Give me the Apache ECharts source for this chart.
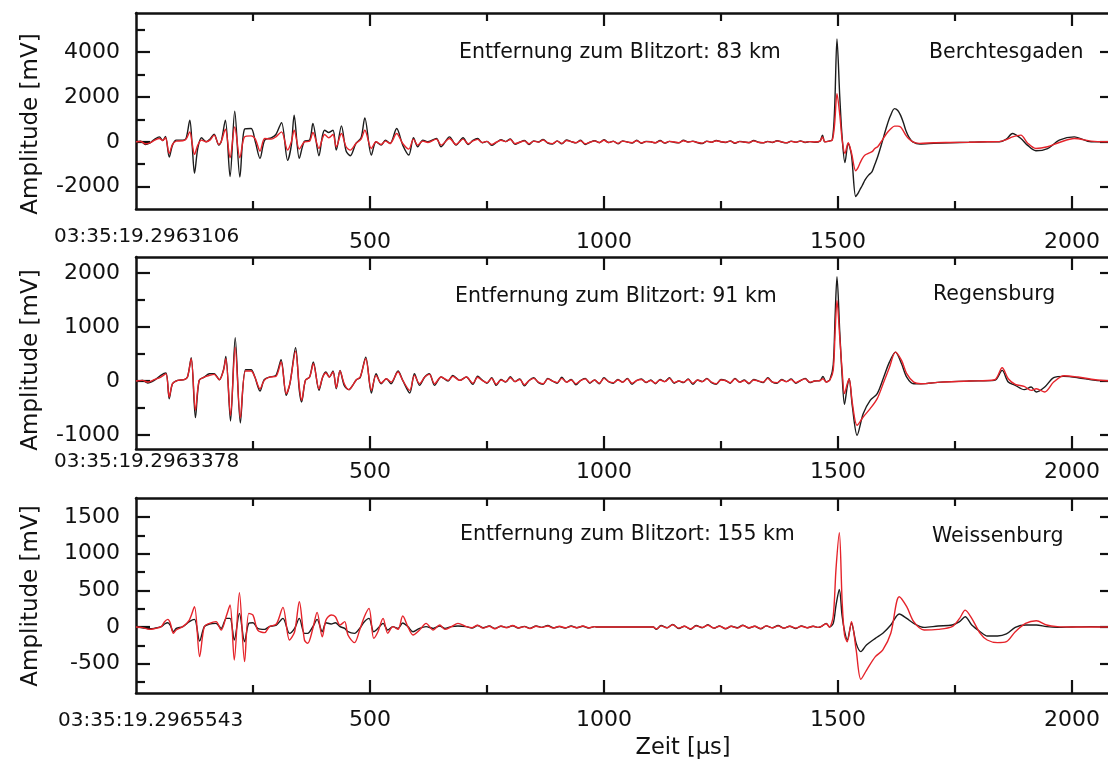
<!DOCTYPE html>
<html>
<head>
<meta charset="utf-8">
<script src="https://cdn.jsdelivr.net/npm/echarts@6/dist/echarts.min.js"></script>
<style>
  html, body { margin: 0; padding: 0; background: #fff; }
  #chart { width: 1108px; height: 768px; }
</style>
</head>
<body>
<div id="chart"></div>
<script>
// Time axis ticks [µs]
const timeTicksMajor = [500, 1000, 1500, 2000];
const timeTicksMinor = [250, 750, 1250, 1750];

// Berchtesgaden, 83 km
const berchtesgadenTime = [
  0,10,20,30,40,50,57,63,71,78,86,100,107,115,120,125,132,140,150,158,
  167,177,182,191,201,211,222,232,246,255,265,275,289,299,311,324,332,338,349,360,
  371,378,391,398,403,412,421,428,439,449,458,470,481,489,503,513,524,533,543,557,
  570,583,593,602,613,624,642,652,670,684,699,
  710,720,730,740,750,760,770,780,790,800,810,820,830,840,850,860,870,880,890,900,
  910,920,930,940,950,960,970,980,990,1000,1010,1020,1030,1040,1050,1060,1070,1080,1090,1100,
  1110,1120,1130,1140,1150,1160,1170,1180,1190,1200,1210,1220,1230,1240,1250,1260,1270,1280,1290,1300,
  1310,1320,1330,1340,1350,1360,1370,1380,1390,1400,1410,1420,1430,1440,1450,
  1462,1467,1472,1480,1488,1493,1498,1504,1509,1515,1522,1529,1538,1543,1547,1552,1558,1565,1573,1579,
  1585,1594,1604,1612,1621,1628,1634,1640,1645,1652,1660,1675,1705,1740,1780,1820,1845,1860,1873,1891,
  1905,1923,1948,1973,2005,2041,2070,2090
];
const berchtesgadenBlack = [
  0,30,-118,-44,118,222,59,237,-681,-148,74,74,148,962,-148,-1406,-296,178,0,118,
  340,-148,0,962,-1554,1362,-1569,562,592,0,-740,74,178,326,858,-829,-148,1184,-740,30,
  74,814,-622,222,518,414,518,-370,710,-414,-622,-74,178,1066,-592,0,-148,74,-74,592,
  -148,-592,178,-222,74,0,148,-222,222,-148,178,
  -120,60,150,-40,20,-160,-30,90,10,130,-110,-20,60,-120,40,-10,110,-60,-100,40,
  -90,80,10,-50,70,-120,-20,50,-40,90,-30,30,-90,40,-10,-60,70,-70,20,0,
  -50,60,-60,20,-20,-50,70,-10,30,-40,-80,30,-20,60,0,-30,40,-70,20,-10,
  -40,60,-20,-50,20,-30,50,-10,-50,30,-20,40,-30,10,-20,
  40,300,0,30,100,1500,4590,2000,200,-930,-70,-600,-2440,-2300,-2140,-1950,-1700,-1500,-1330,-1000,
  -670,-50,670,1150,1480,1400,1180,850,520,200,0,-100,-70,-40,-20,0,0,120,370,150,
  -150,-400,-300,70,220,0,0,0
];
const berchtesgadenRed = [
  0,15,-89,-44,74,148,59,178,-518,-118,30,44,118,444,-74,-562,-148,74,0,74,
  296,-118,0,562,-710,666,-710,222,266,118,-414,148,118,222,444,-370,0,518,-326,0,
  30,414,-296,118,326,178,326,-222,370,-222,-370,-74,118,518,-296,0,-118,30,-74,370,
  -74,-326,118,-148,30,-30,118,-148,148,-118,118,
  -90,40,110,-30,20,-120,-20,70,10,100,-80,-20,40,-90,30,-10,80,-40,-80,30,
  -70,60,10,-40,50,-90,-20,40,-30,70,-30,20,-70,30,-10,-40,50,-50,10,0,
  -40,40,-50,20,-10,-40,50,-10,20,-30,-60,20,-20,50,0,-20,30,-50,10,-10,
  -30,40,-20,-40,10,-20,40,-10,-40,20,-20,30,-20,10,-10,
  30,220,0,20,80,800,2150,1200,100,-520,-40,-500,-1290,-1150,-960,-750,-590,-520,-440,-300,
  -220,50,370,560,700,700,660,480,300,120,0,-70,-40,-30,-20,0,10,100,220,300,
  -50,-300,-220,-30,150,30,0,0
];

// Regensburg, 91 km
const regensburgTime = [
  0,14,25,39,53,64,71,78,89,103,110,118,127,135,146,157,167,178,187,192,
  202,212,223,234,246,254,265,274,285,299,310,321,329,341,349,354,362,371,379,391,
  399,406,413,421,428,436,445,455,463,471,479,491,503,513,524,535,545,560,570,585,
  595,606,617,627,638,652,667,677,692,706,
  720,730,740,750,760,770,780,790,800,810,820,830,840,850,860,870,880,890,900,910,
  920,930,940,950,960,970,980,990,1000,1010,1020,1030,1040,1050,1060,1070,1080,1090,1100,1110,
  1120,1130,1140,1150,1160,1170,1180,1190,1200,1210,1220,1230,1240,1250,1260,1270,1280,1290,1300,1310,
  1320,1330,1340,1350,1360,1370,1380,1390,1400,1410,1420,1430,1440,1450,
  1462,1468,1475,1483,1490,1494,1498,1504,1509,1514,1520,1524,1531,1541,1554,1569,1584,1598,1610,1623,
  1636,1647,1662,1677,1720,1780,1835,1851,1864,1879,1898,1913,1924,1942,1961,1983,2013,2050,2090
];
const regensburgBlack = [
  0,12,-37,12,105,148,-327,-49,12,25,74,432,-679,12,74,136,136,25,210,457,
  -740,802,-778,210,210,74,-185,25,74,105,395,-265,-49,617,-173,-389,12,74,352,-173,
  74,167,74,185,-142,197,-80,-160,-80,25,62,444,-222,136,-49,43,-49,185,12,-222,
  136,-80,74,136,-80,74,0,105,12,74,
  -60,90,20,-40,60,-80,30,-20,80,-10,40,-90,10,60,-30,-60,50,0,-40,70,
  -20,30,-70,10,50,-40,20,-50,60,-10,-40,30,-20,50,-60,10,40,-30,20,-50,
  30,-10,60,-40,0,-30,40,-60,20,-10,50,-30,-60,30,10,-40,50,-20,20,-50,
  30,0,-30,60,-20,-40,30,-10,40,-40,10,50,-30,0,
  10,86,-19,30,300,1200,1937,900,100,-432,-100,43,-481,-1006,-605,-358,-235,74,350,537,
  321,74,-49,-49,-20,0,12,197,-19,-80,-160,-111,-204,-111,62,86,62,12,0
];
const regensburgRed = [
  0,12,-19,25,74,136,-296,-49,12,25,74,413,-543,12,74,105,123,25,197,413,
  -636,629,-679,185,185,74,-142,12,74,86,352,-234,-37,555,-111,-358,12,74,321,-142,
  74,148,74,167,-123,185,-49,-160,-80,25,74,413,-173,105,-37,43,-19,167,12,-173,
  105,-49,74,123,-49,74,12,86,12,74,
  -40,70,10,-30,50,-60,20,-10,60,-10,30,-70,10,50,-20,-50,40,0,-30,50,
  -20,20,-50,10,40,-30,20,-40,50,-10,-30,20,-20,40,-40,10,30,-20,10,-40,
  20,-10,50,-30,0,-20,30,-40,20,-10,40,-20,-50,20,10,-30,40,-20,10,-40,
  20,0,-20,50,-20,-30,20,-10,30,-30,10,40,-20,0,
  10,43,-19,20,200,900,1493,800,200,-234,-50,43,-420,-820,-667,-512,-327,-19,250,537,
  383,136,-19,-49,-20,0,25,247,43,-62,-99,-173,-142,-204,-19,99,74,25,0
];

// Weissenburg, 155 km
const weissenburgTime = [
  0,14,29,39,54,61,68,73,80,86,100,114,125,136,146,157,171,182,193,201,
  210,221,232,241,250,260,275,285,300,314,328,339,349,360,367,378,387,398,406,417,
  426,436,446,453,467,478,488,498,508,517,528,538,549,560,570,581,592,606,620,635,
  649,660,674,688,706,
  718,730,742,755,767,780,792,805,817,830,842,855,867,880,892,905,917,930,942,955,
  967,980,985,1105,1112,1122,1135,1147,1160,1172,1185,1197,1210,1222,1235,1247,1260,1272,1285,1297,
  1310,1322,1335,1347,1360,1372,1385,1397,1410,1422,1435,1447,1458,
  1465,1475,1482,1490,1496,1503,1509,1514,1520,1529,1539,1549,1561,1580,1596,1613,1631,1647,1662,1684,
  1714,1744,1760,1772,1786,1804,1819,1841,1860,1879,1901,1924,1946,1969,2000,2040,2090
];
const weissenburgBlack = [
  0,-9,-23,-18,5,41,59,27,-64,-18,5,73,104,-191,5,41,50,-18,118,118,
  -177,186,-200,50,59,-18,-32,5,27,118,-86,-18,118,-86,-86,5,104,-64,59,41,
  59,5,-18,-64,-86,-18,73,118,-64,-18,50,-41,5,-18,54,5,-64,-18,5,-18,
  14,-18,5,14,5,
  -14,20,-10,14,-20,10,-5,18,-14,9,-18,14,-5,20,-10,5,-14,14,-9,10,
  -14,5,0,0,-30,20,-10,35,-20,10,-30,20,-10,30,-15,15,-25,10,-10,25,
  -15,10,-25,15,-10,20,-15,10,-20,15,-10,10,-5,
  10,50,0,50,300,513,150,-50,-177,50,-223,-336,-245,-154,-86,27,177,118,50,-5,
  14,27,73,140,27,-64,-122,-122,-95,-5,27,27,5,-5,0,5,0
];
const weissenburgRed = [
  0,-9,-32,-23,5,73,104,59,-86,-41,5,95,277,-404,5,50,73,-41,150,300,
  -450,468,-472,186,163,-41,-77,5,41,268,-177,-64,345,-177,-222,-18,200,-132,95,163,
  141,27,73,-109,-213,-41,141,254,-154,-64,118,-86,5,-32,150,5,-109,-41,50,-41,
  27,-32,5,50,5,
  -10,25,-15,10,-25,14,-10,20,-10,5,-20,10,-5,14,-14,10,-10,9,-9,14,
  -10,5,0,0,-25,15,-10,30,-15,10,-25,15,-5,25,-15,10,-20,10,-15,20,
  -10,10,-20,15,-10,15,-15,10,-15,10,-10,10,-5,
  10,45,0,150,800,1285,350,-100,-200,73,-313,-713,-590,-404,-313,-86,413,277,73,-41,
  -32,5,118,231,118,-86,-177,-213,-200,-64,50,86,27,5,0,0,0
];

// Layout of the three stacked panels
const panels = [
  { name: 'Berchtesgaden', distance: 'Entfernung zum Blitzort: 83 km', stamp: '03:35:19.2963106',
    time: berchtesgadenTime, black: berchtesgadenBlack, red: berchtesgadenRed,
    yMin: -3000, yMax: 5750, yMajor: [-2000, 0, 2000, 4000], yMinor: [-1000, 1000, 3000, 5000],
    top: 13, height: 196, labelMargin: 22,
    distPos: [459, 53], namePos: [929, 53], stampPos: [54, 237], titleY: 124 },
  { name: 'Regensburg', distance: 'Entfernung zum Blitzort: 91 km', stamp: '03:35:19.2963378',
    time: regensburgTime, black: regensburgBlack, red: regensburgRed,
    yMin: -1260, yMax: 2300, yMajor: [-1000, 0, 1000, 2000], yMinor: [-500, 500, 1500],
    top: 257, height: 192, labelMargin: 12,
    distPos: [455, 297], namePos: [933, 295], stampPos: [54, 462], titleY: 360 },
  { name: 'Weissenburg', distance: 'Entfernung zum Blitzort: 155 km', stamp: '03:35:19.2965543',
    time: weissenburgTime, black: weissenburgBlack, red: weissenburgRed,
    yMin: -900, yMax: 1760, yMajor: [-500, 0, 500, 1000, 1500], yMinor: [-750, -250, 250, 750, 1250],
    top: 498, height: 195, labelMargin: 16,
    distPos: [460, 535], namePos: [932, 537], stampPos: [58, 721], titleY: 596 }
];

const FONT = 'DejaVu Sans';
const INK = '#111';
const frame = { show: true, onZero: false, lineStyle: { color: INK, width: 2.5 } };
const noLine = { show: false, onZero: false };
const tickStyle = { color: INK, width: 2.2 };
const fmt = v => String(v);

const grids = [], xAxes = [], yAxes = [], series = [], graphics = [];

panels.forEach((p, i) => {
  grids.push({ left: 136, top: p.top, width: 978, height: p.height, outerBoundsMode: 'none', containLabel: false });
  const xBase = { gridIndex: i, type: 'value', min: 0, max: 2090, splitLine: { show: false } };
  // bottom frame with labelled major ticks
  xAxes.push(Object.assign({}, xBase, {
    position: 'bottom', axisLine: frame,
    axisTick: { show: true, inside: true, length: 13, customValues: timeTicksMajor, lineStyle: tickStyle },
    axisLabel: { show: true, customValues: timeTicksMajor, formatter: fmt, margin: p.labelMargin,
      fontSize: 22, fontFamily: FONT, color: INK }
  }));
  xAxes.push(Object.assign({}, xBase, {
    position: 'bottom', axisLine: noLine,
    axisTick: { show: true, inside: true, length: 8, customValues: timeTicksMinor, lineStyle: tickStyle },
    axisLabel: { show: false }
  }));
  // top frame
  xAxes.push(Object.assign({}, xBase, {
    position: 'top', axisLine: frame,
    axisTick: { show: true, inside: true, length: 13, customValues: timeTicksMajor, lineStyle: tickStyle },
    axisLabel: { show: false }
  }));
  xAxes.push(Object.assign({}, xBase, {
    position: 'top', axisLine: noLine,
    axisTick: { show: true, inside: true, length: 8, customValues: timeTicksMinor, lineStyle: tickStyle },
    axisLabel: { show: false }
  }));

  const yBase = { gridIndex: i, type: 'value', min: p.yMin, max: p.yMax, splitLine: { show: false } };
  yAxes.push(Object.assign({}, yBase, {
    position: 'left', axisLine: frame,
    axisTick: { show: true, inside: true, length: 14, customValues: p.yMajor, lineStyle: tickStyle },
    axisLabel: { show: true, customValues: p.yMajor, formatter: fmt, margin: 16,
      fontSize: 22, fontFamily: FONT, color: INK }
  }));
  yAxes.push(Object.assign({}, yBase, {
    position: 'left', axisLine: noLine,
    axisTick: { show: true, inside: true, length: 9, customValues: p.yMinor, lineStyle: tickStyle },
    axisLabel: { show: false }
  }));
  yAxes.push(Object.assign({}, yBase, {
    position: 'right', axisLine: frame,
    axisTick: { show: true, inside: true, length: 14, customValues: p.yMajor, lineStyle: tickStyle },
    axisLabel: { show: false }
  }));

  const toPairs = vals => p.time.map((t, k) => [t, vals[k]]);
  [['black', '#1c1c1c'], ['red', '#e5232a']].forEach(([key, color]) => {
    series.push({
      type: 'line', xAxisIndex: 4 * i, yAxisIndex: 3 * i,
      data: toPairs(p[key]), showSymbol: false, symbol: 'none', smooth: 0.3,
      lineStyle: { color, width: 1.4 }, silent: true, animation: false, z: key === 'red' ? 3 : 2
    });
  });

  const txt = (x, y, text, size, align) => ({
    type: 'text', x, y, silent: true,
    style: { text, fontSize: size, fontFamily: FONT, fill: INK, textAlign: align || 'left', textVerticalAlign: 'middle' }
  });
  graphics.push(txt(p.distPos[0], p.distPos[1], p.distance, 20.5));
  graphics.push(txt(p.namePos[0], p.namePos[1], p.name, 20.5));
  graphics.push(txt(p.stampPos[0], p.stampPos[1], p.stamp, 20));
  graphics.push({
    type: 'text', x: 31, y: p.titleY, rotation: Math.PI / 2, silent: true,
    style: { text: 'Amplitude [mV]', fontSize: 23, fontFamily: FONT, fill: INK, textAlign: 'center', textVerticalAlign: 'middle' }
  });
});

graphics.push({
  type: 'text', x: 683, y: 748, silent: true,
  style: { text: 'Zeit [µs]', fontSize: 22.5, fontFamily: FONT, fill: INK, textAlign: 'center', textVerticalAlign: 'middle' }
});

const chart = echarts.init(document.getElementById('chart'), null, { renderer: 'canvas' });
chart.setOption({
  animation: false,
  backgroundColor: '#fff',
  grid: grids,
  xAxis: xAxes,
  yAxis: yAxes,
  series,
  graphic: graphics
});
</script>
</body>
</html>
